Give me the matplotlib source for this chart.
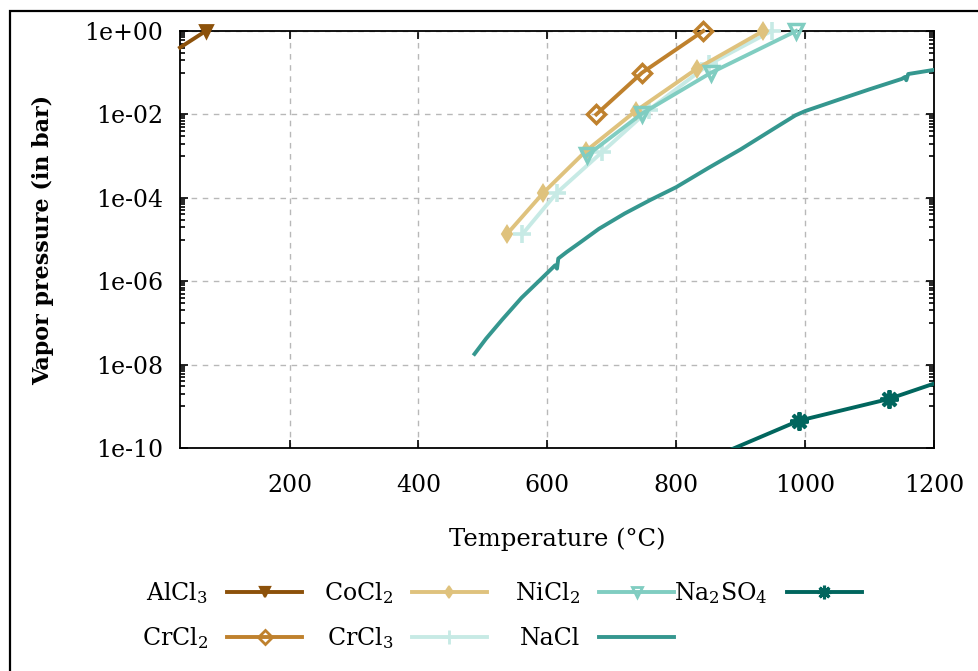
import matplotlib
matplotlib.use("Agg")
import matplotlib.pyplot as plt
from matplotlib.lines import Line2D
from matplotlib.patches import Rectangle
from matplotlib.ticker import FixedLocator, NullFormatter, NullLocator

plt.rcParams['font.family'] = ['DejaVu Serif']
plt.rcParams['mathtext.fontset'] = 'dejavuserif'

# ---------------- data ----------------
alcl3_T = [30, 70]
alcl3_P = [0.40, 1.0]

crcl2_T = [676, 747, 842]
crcl2_P = [1e-2, 1e-1, 1.0]

cocl2_T = [537, 594, 660, 737, 832, 935]
cocl2_P = [1.33e-5, 1.33e-4, 1.33e-3, 1.2e-2, 0.125, 1.0]

crcl3_T = [561, 615, 685, 758, 851, 948]
crcl3_P = [1.33e-5, 1.33e-4, 1.25e-3, 1.3e-2, 0.16, 1.0]

nicl2_T = [662, 747, 854, 986]
nicl2_P = [1.05e-3, 1.05e-2, 0.1, 1.0]

nacl_T = [487, 505, 530, 560, 590, 612, 615, 617, 630, 650, 680, 720, 760, 800,
          850, 900, 950, 985, 1000, 1050, 1100, 1150, 1155, 1157, 1160, 1200]
nacl_P = [1.8e-8, 4.2e-8, 1.2e-7, 4.0e-7, 1.12e-6, 2.4e-6, 2.0e-6, 3.5e-6, 5.0e-6,
          8.3e-6, 1.8e-5, 4.2e-5, 8.9e-5, 1.8e-4, 5.2e-4, 1.45e-3, 4.4e-3, 9.5e-3,
          1.2e-2, 2.2e-2, 4.0e-2, 7.1e-2, 7.9e-2, 6.6e-2, 9.3e-2, 1.17e-1]

na2so4_T = [850, 990, 1130, 1200]
na2so4_P = [5.4e-11, 4.5e-10, 1.5e-9, 3.5e-9]

x_ticks = [200, 400, 600, 800, 1000, 1200]
y_ticks = [1e-10, 1e-8, 1e-6, 1e-4, 1e-2, 1e0]
y_tick_labels = ["1e-10", "1e-08", "1e-06", "1e-04", "1e-02", "1e+00"]

# ---------------- figure ----------------
W, H = 979, 671
fig = plt.figure(figsize=(W / 100, H / 100), dpi=100)
ax = fig.add_axes([180 / W, 1 - 448 / H, (934 - 180) / W, (448 - 31) / H])

lw = 2.8
styles = {
    'AlCl3': dict(color='#8c510a', marker='v', ms=9, mfc='#8c510a', mew=2),
    'CrCl2': dict(color='#bf812d', marker='D', ms=9, mfc='none', mew=2.5),
    'CoCl2': dict(color='#dfc27d', marker='d', ms=8, mfc='#dfc27d', mew=1.5),
    'CrCl3': dict(color='#c7eae5', marker='+', ms=13, mew=2.6),
    'NiCl2': dict(color='#80cdc1', marker='v', ms=10, mfc='none', mew=2.5),
    'NaCl': dict(color='#35978f', marker=None),
    'Na2SO4': dict(color='#01665e', marker=(8, 2, 0), ms=13, mew=2.8),
}

ax.plot(alcl3_T, alcl3_P, lw=lw, markevery=[1], clip_on=False, zorder=5, **styles['AlCl3'])
ax.plot(cocl2_T, cocl2_P, lw=lw, clip_on=False, zorder=4, **styles['CoCl2'])
ax.plot(crcl3_T, crcl3_P, lw=lw, clip_on=False, zorder=3, **styles['CrCl3'])
ax.plot(nicl2_T, nicl2_P, lw=lw, clip_on=False, zorder=5, **styles['NiCl2'])
ax.plot(crcl2_T, crcl2_P, lw=lw, clip_on=False, zorder=6, **styles['CrCl2'])
ax.plot(nacl_T, nacl_P, lw=lw, zorder=5, **styles['NaCl'])
ax.plot(na2so4_T, na2so4_P, lw=lw, markevery=[1, 2], zorder=5, **styles['Na2SO4'])

ax.set_yscale('log')
ax.set_xlim(30, 1200)
ax.set_ylim(1e-10, 1e0)

ax.xaxis.set_major_locator(FixedLocator(x_ticks))
ax.xaxis.set_minor_locator(NullLocator())
ax.yaxis.set_major_locator(FixedLocator(y_ticks))
ax.set_yticklabels(y_tick_labels)
minor = []
for k in [0, -2, -4, -6, -8]:
    for j in range(1, 10):
        minor.append(j * 10.0 ** (k - 1))
ax.yaxis.set_minor_locator(FixedLocator(minor))
ax.yaxis.set_minor_formatter(NullFormatter())

ax.tick_params(which='both', direction='in', top=True, right=True, labelsize=17, width=1.2)
ax.tick_params(which='major', length=6)
ax.tick_params(which='minor', length=3.5)
ax.tick_params(axis='x', pad=19)
ax.tick_params(axis='y', pad=12)

ax.grid(True, which='major', color='#b8b8b8', lw=1.0, ls=(0, (4, 4)))
for s in ax.spines.values():
    s.set_linewidth(1.3)

ax.set_xlabel('Temperature (°C)', fontsize=17.5, labelpad=22)
ax.set_ylabel('Vapor pressure (in bar)', fontsize=16, fontweight='bold', labelpad=22)

# ---------------- legend (gnuplot style: label then sample) ----------------
legend_entries = [
    ('AlCl$_3$', 'AlCl3', 208, 592),
    ('CoCl$_2$', 'CoCl2', 393, 592),
    ('NiCl$_2$', 'NiCl2', 580, 592),
    ('Na$_2$SO$_4$', 'Na2SO4', 768, 592),
    ('CrCl$_2$', 'CrCl2', 208, 637),
    ('CrCl$_3$', 'CrCl3', 393, 637),
    ('NaCl', 'NaCl', 580, 637),
]
for label, key, xr, yc in legend_entries:
    fig.text(xr / W, 1 - (yc + 8) / H, label, ha='right', va='baseline', fontsize=17)
    x0 = xr + 19
    x1 = x0 + 75
    st = styles[key]
    fig.add_artist(Line2D([x0 / W, x1 / W], [1 - yc / H, 1 - yc / H],
                          transform=fig.transFigure, lw=lw, color=st['color']))
    if st.get('marker') is not None:
        kw = {k: v for k, v in st.items() if k != 'color'}
        kw['ms'] = kw['ms'] * 0.75
        kw['mew'] = kw['mew'] * 0.8
        fig.add_artist(Line2D([(x0 + x1) / 2 / W], [1 - yc / H], transform=fig.transFigure,
                              lw=0, color=st['color'], **kw))

# outer frame of the figure
fig.add_artist(Rectangle((10 / W, -0.5), 2.0, 0.5 + 1 - 11 / H, transform=fig.transFigure,
                         fill=False, lw=1.6, ec='black', clip_on=False))

fig.savefig('out.png', dpi=100)
